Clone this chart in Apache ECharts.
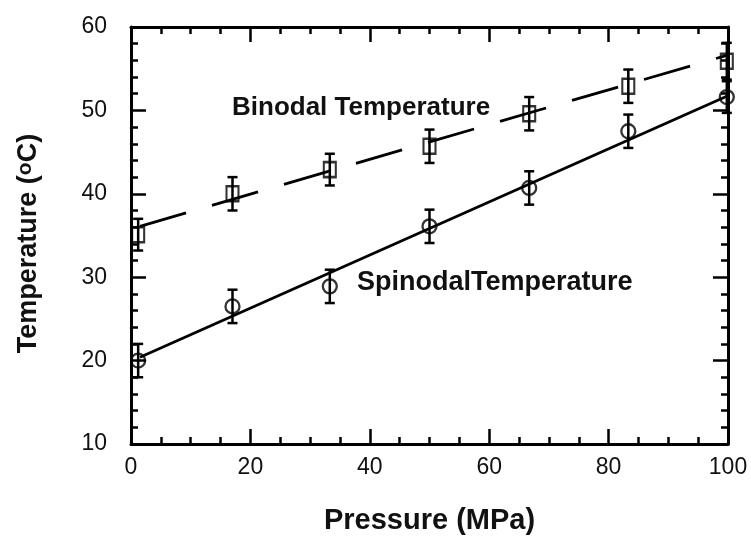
<!DOCTYPE html>
<html>
<head>
<meta charset="utf-8">
<script src="https://cdn.jsdelivr.net/npm/echarts@6/dist/echarts.min.js"></script>
<style>
html,body{margin:0;padding:0;background:#fff;}
#main{width:751px;height:540px;}
</style>
</head>
<body>
<div id="main"></div>
<script>
// pressure (MPa) of the measured points
var pressure = [1.2, 17, 33.3, 50, 66.7, 83.3, 99.8];
// spinodal temperature (oC) and error
var spinodalT = [20.0, 26.5, 28.9, 36.1, 40.7, 47.5, 51.6];
var spinodalErr = [2, 2, 2, 2, 2, 2, 1.9];
// binodal temperature (oC) and error
var binodalT = [35.1, 40.0, 42.9, 45.7, 49.6, 52.9, 55.9];
var binodalErr = [1.9, 2, 1.9, 2, 2, 2, 2.2];
// fitted lines, end points
var fitP = [1.5, 99.8];
var spinodalFit = [20.4, 51.7];
var binodalFit = [36.1, 56.6];

var FONT = '"Liberation Sans", Arial, Helvetica, sans-serif';

function pairs(xs, ys){
    var out = [];
    for(var i=0;i<xs.length;i++){
        out.push([xs[i], ys[i]]);
    }
    return out;
}

//误差线
function errBar(vals, errs){
    var d = [];
    for(var i=0;i<pressure.length;i++){
        d.push([pressure[i], vals[i]-errs[i], vals[i]+errs[i]]);
    }
    return {
        type: 'custom',
        data: d,
        z: 3,
        encode: {x: 0, y: [1, 2]},
        renderItem: function(params, api){
            var lo = api.coord([api.value(0), api.value(1)]);
            var hi = api.coord([api.value(0), api.value(2)]);
            var w = 5;
            var st = {stroke: '#000', lineWidth: 2.5};
            return {
                type: 'group',
                children: [
                    {type: 'line', shape: {x1: lo[0], y1: lo[1], x2: hi[0], y2: hi[1]}, style: st},
                    {type: 'line', shape: {x1: lo[0]-w, y1: lo[1], x2: lo[0]+w, y2: lo[1]}, style: st},
                    {type: 'line', shape: {x1: hi[0]-w, y1: hi[1], x2: hi[0]+w, y2: hi[1]}, style: st}
                ]
            };
        }
    };
}

//四边框坐标轴
function frameAxis(extra, minorSplit){
    var a = {
        type: 'value',
        axisLine: {show: true, onZero: false, lineStyle: {color: '#000', width: 3}},
        axisTick: {show: true, inside: true, length: 15, lineStyle: {color: '#000', width: 2.5}},
        minorTick: {show: true, splitNumber: minorSplit, length: 7, lineStyle: {color: '#000', width: 2.5}},
        splitLine: {show: false},
        minorSplitLine: {show: false},
        axisLabel: {show: false}
    };
    for(var k in extra){ a[k] = extra[k]; }
    return a;
}

var myChart = echarts.init(document.getElementById('main'));
myChart.setOption({
    backgroundColor: '#fff',
    animation: false,
    grid: {left: 131, top: 27, right: 23, bottom: 89},
    xAxis: [
        frameAxis({
            position: 'bottom', min: 0, max: 100, interval: 20,
            axisLabel: {margin: 12, fontSize: 23, color: '#111', fontFamily: FONT},
            name: 'Pressure (MPa)',
            nameLocation: 'middle',
            nameGap: 62,
            nameTextStyle: {fontSize: 29, fontWeight: 'bold', color: '#111', fontFamily: FONT}
        }, 4),
        frameAxis({position: 'top', min: 0, max: 100, interval: 20}, 4)
    ],
    yAxis: [
        frameAxis({
            position: 'left', min: 10, max: 60, interval: 10,
            axisLabel: {margin: 24, fontSize: 23, color: '#111', fontFamily: FONT},
            name: 'Temperature ({sup|o}C)',
            nameLocation: 'middle',
            nameGap: 89,
            nameTextStyle: {
                fontSize: 27, fontWeight: 'bold', color: '#111', fontFamily: FONT,
                padding: [0, 16, 0, 0],
                rich: {
                    sup: {fontSize: 21, fontWeight: 'bold', color: '#111', fontFamily: FONT, verticalAlign: 'top', padding: [0, 0, 6, 0]}
                }
            }
        }, 5),
        frameAxis({position: 'right', min: 10, max: 60, interval: 10}, 5)
    ],
    graphic: [
        {type: 'text', left: 232, top: 95, style: {text: 'Binodal Temperature', font: 'bold 26px ' + FONT, fill: '#111'}},
        {type: 'text', left: 357, top: 269, style: {text: 'SpinodalTemperature', font: 'bold 27px ' + FONT, fill: '#111'}}
    ],
    series: [
        {
            type: 'line', data: pairs(fitP, spinodalFit), symbol: 'none', silent: true,
            lineStyle: {color: '#000', width: 2.8}, z: 2
        },
        {
            type: 'line', data: pairs(fitP, binodalFit), symbol: 'none', silent: true,
            lineStyle: {color: '#000', width: 2.8, type: [48, 27]}, z: 2
        },
        errBar(spinodalT, spinodalErr),
        errBar(binodalT, binodalErr),
        {
            type: 'scatter', data: pairs(pressure, spinodalT), symbol: 'circle', symbolSize: 14,
            itemStyle: {color: 'rgba(0,0,0,0)', borderColor: '#000', borderWidth: 2.3}, z: 4
        },
        {
            type: 'scatter', data: pairs(pressure, binodalT), symbol: 'rect', symbolSize: [12, 15],
            itemStyle: {color: 'rgba(0,0,0,0)', borderColor: '#000', borderWidth: 2.3}, z: 4
        }
    ]
});
</script>
</body>
</html>
